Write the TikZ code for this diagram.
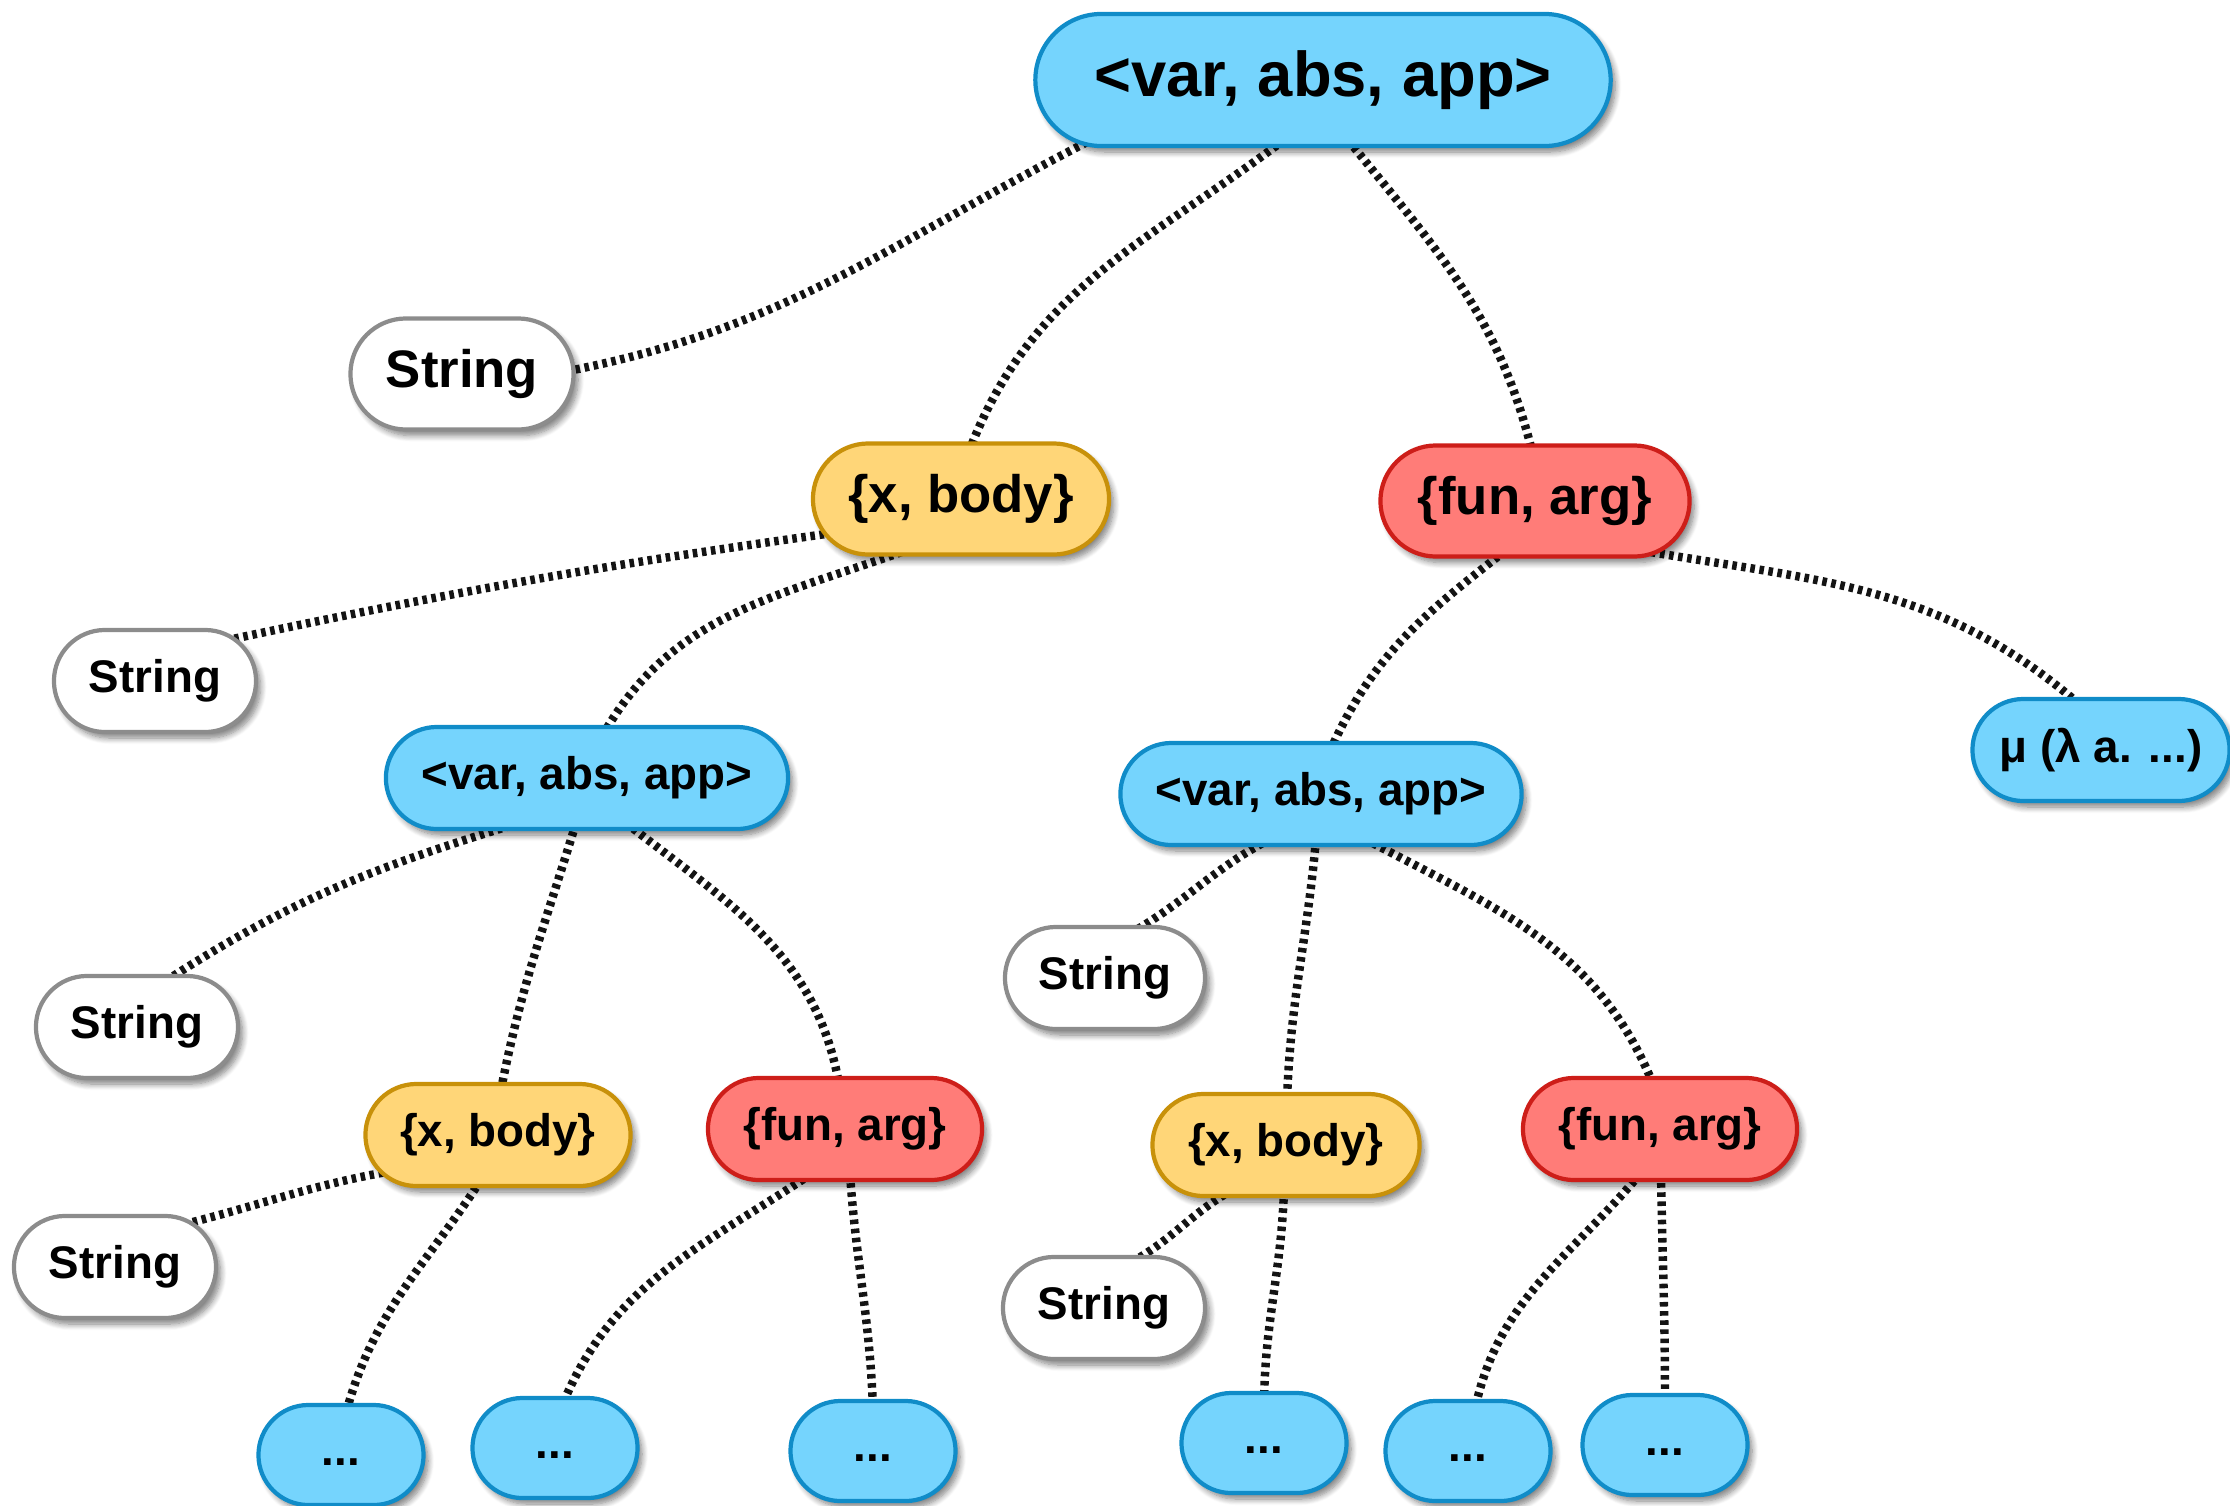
\documentclass[tikz,border=0pt]{standalone}
\usepackage{fontspec}
\setmainfont{Liberation Sans}
\usetikzlibrary{calc,shadows.blur}

\definecolor{vaaFill}{RGB}{117,212,253}
\definecolor{vaaLine}{RGB}{16,140,200}
\definecolor{lamFill}{RGB}{255,214,120}
\definecolor{lamLine}{RGB}{200,145,10}
\definecolor{appFill}{RGB}{255,124,120}
\definecolor{appLine}{RGB}{205,30,25}
\definecolor{strLine}{RGB}{140,140,140}
\definecolor{linkCol}{RGB}{20,20,20}

\pgfdeclarelayer{background}
\pgfsetlayers{background,main}

\begin{document}
\begin{tikzpicture}[x=0.01cm,y=0.01cm,
  pill/.style={rectangle, line width=1.2pt, inner sep=0pt,
    blur shadow={shadow xshift=0.045cm, shadow yshift=-0.06cm,
      shadow blur radius=0.06cm, shadow opacity=50, shadow blur steps=8}},
  hA/.style={pill, minimum height=1.32cm, rounded corners=0.66cm,
    font=\bfseries\fontsize{18}{20}\selectfont},
  hB/.style={pill, minimum height=1.11cm, rounded corners=0.555cm,
    font=\bfseries\fontsize{15}{17}\selectfont},
  hC/.style={pill, minimum height=1.02cm, rounded corners=0.51cm,
    font=\bfseries\fontsize{13}{15}\selectfont},
  hD/.style={pill, minimum height=1.0cm, minimum width=1.65cm,
    rounded corners=0.5cm, text height=0.2cm, text depth=0pt,
    font=\bfseries\fontsize{13}{15}\selectfont},
  vaa/.style={fill=vaaFill, draw=vaaLine},
  lam/.style={fill=lamFill, draw=lamLine},
  appl/.style={fill=appFill, draw=appLine},
  str/.style={fill=white, draw=strLine},
  link/.style={draw=linkCol, line width=2.4pt, dash pattern=on 1.3pt off 1.3pt}
]
\useasboundingbox (0,0) rectangle (2230,-1506);

% root
\node[hA, vaa, minimum width=5.75cm] (r0) at (1323,-80) {<var, abs, app>};

% second level
\node[hB, str, minimum width=2.23cm] (s1) at (462,-374) {String};
\node[hB, lam, minimum width=2.96cm] (x1) at (961,-499) {\{x, body\}};
\node[hB, appl, minimum width=3.09cm] (f1) at (1535,-501) {\{fun, arg\}};

% third level
\node[hC, str, minimum width=2.02cm] (s2) at (155,-681) {String};
\node[hC, vaa, minimum width=4.02cm] (v1) at (587,-778) {<var, abs, app>};
\node[hC, vaa, minimum width=4.01cm] (v2) at (1321,-794) {<var, abs, app>};
\node[hC, vaa, minimum width=2.57cm] (mu) at (2101,-750) {μ (λ a. ...)};

% fourth level
\node[hC, str, minimum width=2.02cm] (s3) at (137,-1027) {String};
\node[hC, str, minimum width=2.00cm] (s4) at (1105,-978) {String};
\node[hC, lam, minimum width=2.65cm] (x2) at (498,-1135) {\{x, body\}};
\node[hC, appl, minimum width=2.74cm] (f2) at (845,-1129) {\{fun, arg\}};
\node[hC, lam, minimum width=2.67cm] (x3) at (1286,-1145) {\{x, body\}};
\node[hC, appl, minimum width=2.74cm] (f3) at (1660,-1129) {\{fun, arg\}};

% leaves
\node[hC, str, minimum width=2.02cm] (s5) at (115,-1267) {String};
\node[hC, str, minimum width=2.02cm] (s6) at (1104,-1308) {String};
\node[hD, vaa] (d1) at (341,-1455) {...};
\node[hD, vaa] (d2) at (555,-1448) {...};
\node[hD, vaa] (d3) at (873,-1451) {...};
\node[hD, vaa] (d4) at (1264,-1443) {...};
\node[hD, vaa] (d5) at (1468,-1451) {...};
\node[hD, vaa] (d6) at (1665,-1445) {...};

% dashed connectors, drawn beneath the nodes
\begin{pgfonlayer}{background}
\draw[link] ($(r0)+(-228,-58)$) to[out=207,in=11]  ($(s1)+(106,3)$);
\draw[link] ($(r0)+(-39,-60)$)  to[out=217,in=69]  ($(x1)+(9,50)$);
\draw[link] ($(r0)+(25,-60)$)   to[out=-51,in=104] ($(f1)+(-3,50)$);

\draw[link] ($(x1)+(-128,-34)$) to[out=188,in=12]  ($(s2)+(68,40)$);
\draw[link] ($(x1)+(-51,-50)$)  to[out=200,in=60]  ($(v1)+(17,45)$);
\draw[link] ($(f1)+(-30,-50)$)  to[out=218,in=66]  ($(v2)+(10,45)$);
\draw[link] ($(f1)+(98,-48)$)   to[out=-10,in=139] ($(mu)+(-22,46)$);

\draw[link] ($(v1)+(-68,-45)$)  to[out=197,in=33]  ($(s3)+(27,45)$);
\draw[link] ($(v1)+(-11,-45)$)  to[out=253,in=79]  ($(x2)+(3,45)$);
\draw[link] ($(v1)+(39,-45)$)   to[out=-38,in=100] ($(f2)+(-6,45)$);

\draw[link] ($(v2)+(-51,-45)$)  to[out=208,in=30]  ($(s4)+(26,45)$);
\draw[link] ($(v2)+(-5,-45)$)   to[out=265,in=88]  ($(x3)+(1,45)$);
\draw[link] ($(v2)+(44,-45)$)   to[out=-28,in=112] ($(f3)+(-7,45)$);

\draw[link] ($(x2)+(-106,-36)$) to[out=190,in=14]  ($(s5)+(66,42)$);
\draw[link] ($(x2)+(-17,-45)$)  to[out=237,in=75]  ($(d1)+(5,42)$);
\draw[link] ($(f2)+(-34,-45)$)  to[out=214,in=68]  ($(d2)+(7,42)$);
\draw[link] ($(f2)+(5,-45)$)    to[out=-86,in=92]  ($(d3)+(0,42)$);

\draw[link] ($(x3)+(-54,-45)$)  to[out=210,in=28]  ($(s6)+(24,44)$);
\draw[link] ($(x3)+(-2,-45)$)   to[out=-92,in=89]  ($(d4)+(0,42)$);
\draw[link] ($(f3)+(-20,-45)$)  to[out=230,in=78]  ($(d5)+(7,42)$);
\draw[link] ($(f3)+(1,-45)$)    to[out=-89,in=90]  ($(d6)+(0,42)$);
\end{pgfonlayer}
\end{tikzpicture}
\end{document}
